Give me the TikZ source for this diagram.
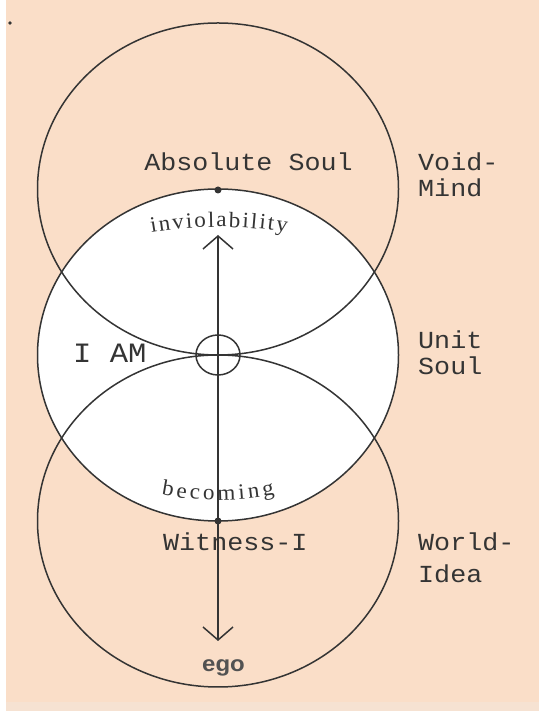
\documentclass[tikz,border=0pt]{standalone}
\usepackage{fontspec}
\usetikzlibrary{arrows.meta,decorations.text}
\newfontfamily\labfont[FakeStretch=1.09]{Liberation Mono}
\newfontfamily\curvefont[FakeStretch=1.05]{Liberation Serif}
\newfontfamily\egofont[FakeStretch=1.09]{Liberation Sans}
\definecolor{peach}{RGB}{250,222,200}
\definecolor{peachlow}{RGB}{246,226,210}
\definecolor{ink}{RGB}{52,52,52}
\begin{document}
\begin{tikzpicture}[x=1pt,y=1pt,
  ring/.style={draw=ink, line width=1.5pt},
  lab/.style={inner sep=0pt, text=ink, font=\labfont\fontsize{24.5}{26}\selectfont},
  dotnode/.style={circle, fill=ink, inner sep=0pt, minimum size=7pt},
]
\useasboundingbox (0,0) rectangle (539,711);
\fill[white] (0,0) rectangle (539,711);
\fill[peach] (6,9) rectangle (539,711);
\fill[peachlow] (6,0) rectangle (539,9);
% circles
\fill[white] (218,356) ellipse [x radius=180.5, y radius=166];
\draw[ring] (218,522) ellipse [x radius=180.5, y radius=166];
\draw[ring] (218,356) ellipse [x radius=180.5, y radius=166];
\draw[ring] (218,190) ellipse [x radius=180.5, y radius=166];
\draw[ring] (218,356) ellipse [x radius=22, y radius=20];
% small mark top left
\node[circle, fill=ink, inner sep=0pt, minimum size=3.6pt] (mark) at (10,688) {};
% axis
\node[dotnode] (tdot) at (218,521) {};
\node[dotnode] (bdot) at (218,190) {};
\coordinate (atip) at (218,476);
\coordinate (btip) at (218,70);
\draw[ring, {Straight Barb[length=13pt,width=30pt]}-{Straight Barb[length=13pt,width=30pt]}] (atip) -- (btip);
% curved words
\path[decorate, decoration={text along path, text align=fit to path, text color=ink,
  text={|\curvefont\fontsize{22}{22}\selectfont|inviolability}}]
  (219,84) ++(99.75:400) arc[start angle=99.75, end angle=80.25, radius=400];
\path[decorate, decoration={text along path, text align=fit to path, text color=ink,
  text={|\curvefont\fontsize{22}{22}\selectfont|becoming}}]
  (218,511) ++(259.1:300) arc[start angle=259.1, end angle=280.9, radius=300];
% labels
\node[lab, anchor=base] (abs) at (248.5,540) {Absolute Soul};
\node[lab, anchor=base west] (void) at (418,540) {Void-};
\node[lab, anchor=base west] (mind) at (418,514) {Mind};
\node[lab, anchor=base west] (unit) at (418,362) {Unit};
\node[lab, anchor=base west] (soul) at (418,336) {Soul};
\node[lab, anchor=base west] (world) at (418,160) {World-};
\node[lab, anchor=base west] (idea) at (418,128) {Idea};
\node[lab, anchor=base west] (wit) at (163,160) {Witness-I};
\node[lab, anchor=base west, font=\labfont\fontsize{28}{30}\selectfont] (iam) at (73,348) {I AM};
\node[inner sep=0pt, anchor=base, text=ink!85, font=\egofont\bfseries\fontsize{22}{24}\selectfont] (ego) at (223.5,39) {ego};
\end{tikzpicture}
\end{document}
